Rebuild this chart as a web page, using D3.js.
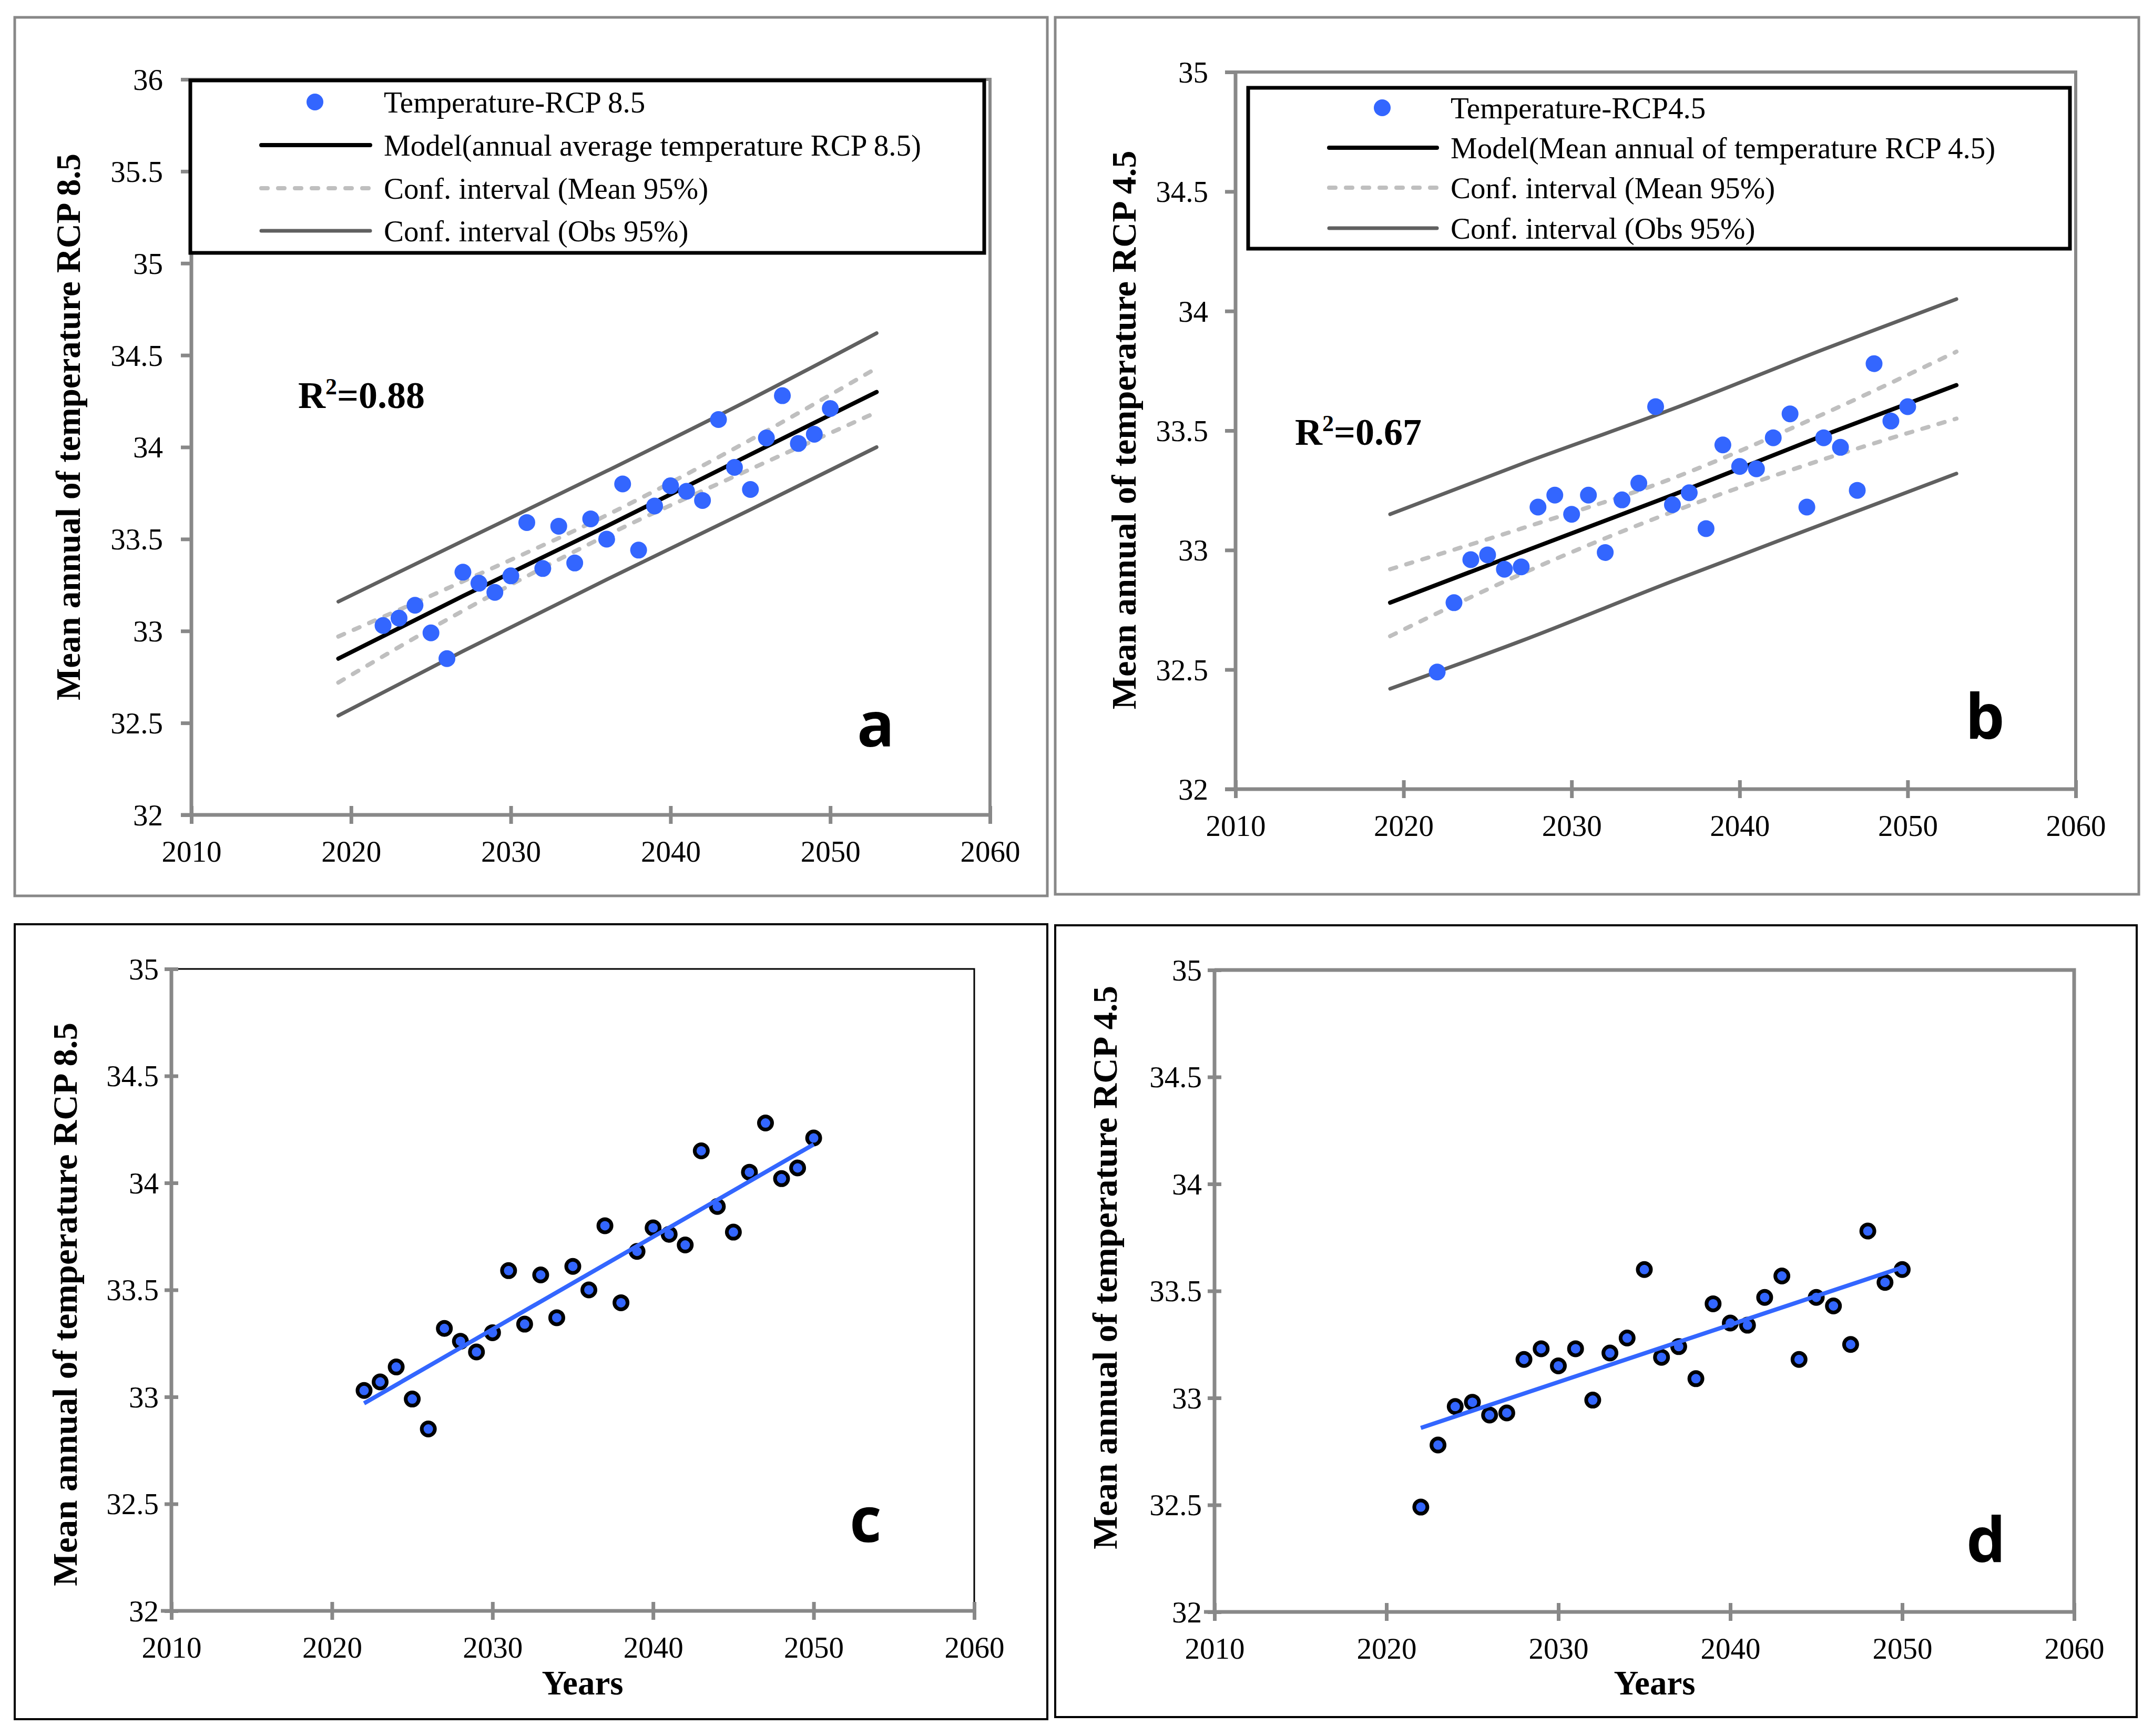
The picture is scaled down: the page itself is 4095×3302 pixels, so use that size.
<!DOCTYPE html>
<html><head><meta charset="utf-8">
<script src="https://cdn.jsdelivr.net/npm/d3@7/dist/d3.min.js"></script>
<style>body{margin:0;background:#fff}svg{display:block}</style>
</head><body>
<svg id="chart" width="4095" height="3302"></svg>
<script>
// ---------------- DATA ----------------
const years = [2022,2023,2024,2025,2026,2027,2028,2029,2030,2031,2032,2033,2034,2035,2036,2037,2038,2039,2040,2041,2042,2043,2044,2045,2046,2047,2048,2049,2050];
const tempRCP85 = [33.03,33.07,33.14,32.99,32.85,33.32,33.26,33.21,33.30,33.59,33.34,33.57,33.37,33.61,33.50,33.80,33.44,33.68,33.79,33.76,33.71,34.15,33.89,33.77,34.05,34.28,34.02,34.07,34.21];
const tempRCP45 = [32.49,32.78,32.96,32.98,32.92,32.93,33.18,33.23,33.15,33.23,32.99,33.21,33.28,33.60,33.19,33.24,33.09,33.44,33.35,33.34,33.47,33.57,33.18,33.47,33.43,33.25,33.78,33.54,33.60];

// regression + confidence lines (read at a few x positions)
const fitYears = [2019.2, 2027, 2036, 2045, 2052.9];
const modelA  = [32.85, 33.19, 33.57, 33.96, 34.30];
const meanUpA = [32.97, 33.27, 33.63, 34.04, 34.43];
const meanLoA = [32.72, 33.11, 33.52, 33.88, 34.19];
const obsUpA  = [33.16, 33.49, 33.87, 34.26, 34.62];
const obsLoA  = [32.54, 32.89, 33.28, 33.66, 34.00];

const modelB  = [32.78, 32.99, 33.23, 33.48, 33.69];
const meanUpB = [32.92, 33.09, 33.30, 33.57, 33.83];
const meanLoB = [32.64, 32.90, 33.16, 33.38, 33.55];
const obsUpB  = [33.15, 33.36, 33.59, 33.84, 34.05];
const obsLoB  = [32.42, 32.62, 32.87, 33.11, 33.32];

// trend lines for panels c and d
const trendYears = [2022, 2050];
const trendC = [32.97, 34.18];
const trendD = [32.86, 33.61];

// ticks
const xTicks = [2010, 2020, 2030, 2040, 2050, 2060];
const yTicksA = [32, 32.5, 33, 33.5, 34, 34.5, 35, 35.5, 36];
const yTicks35 = [32, 32.5, 33, 33.5, 34, 34.5, 35];

const legendA = ["Temperature-RCP 8.5", "Model(annual average temperature RCP 8.5)", "Conf. interval (Mean 95%)", "Conf. interval (Obs 95%)"];
const legendB = ["Temperature-RCP4.5", "Model(Mean annual of temperature RCP 4.5)", "Conf. interval (Mean 95%)", "Conf. interval (Obs 95%)"];
const yLabel85 = "Mean annual of temperature RCP 8.5";
const yLabel45 = "Mean annual of temperature RCP 4.5";
const xLabel = "Years";
const r2A = "0.88", r2B = "0.67";

// ---------------- DRAW ----------------
const SERIF = '"Liberation Serif","Times New Roman",serif';
const SANS = '"Open Sans","Liberation Sans",sans-serif';
const BLUE = '#3366FF';
const AXIS = '#888888';
const svg = d3.select('#chart');
svg.append('rect').attr('width', 4095).attr('height', 3302).attr('fill', '#fff');

const pair = (xs, ys) => xs.map((v, i) => [v, ys[i]]);

function panel(c) {
  const g = svg.append('g');
  g.append('rect')
    .attr('x', c.frame[0]).attr('y', c.frame[1])
    .attr('width', c.frame[2] - c.frame[0]).attr('height', c.frame[3] - c.frame[1])
    .attr('fill', 'none').attr('stroke', c.frameColor).attr('stroke-width', c.frameW);

  const x = d3.scaleLinear().domain([2010, 2060]).range([c.left, c.right]);
  const y = d3.scaleLinear().domain(c.yDomain).range([c.bottom, c.top]);

  // top/right plot border
  g.append('path')
    .attr('d', `M${c.left},${c.top}H${c.right}V${c.bottom}`)
    .attr('fill', 'none').attr('stroke', c.borderColor).attr('stroke-width', c.borderW);

  // Y axis
  const ya = g.append('g').attr('transform', `translate(${c.left},0)`)
    .call(d3.axisLeft(y).tickValues(c.yTicks).tickFormat(d3.format('')).tickSize(0).tickPadding(c.yLabelGap));
  ya.select('.domain').remove();
  ya.attr('font-family', SERIF).attr('font-size', 57);
  ya.selectAll('text').attr('fill', '#000').attr('dy', '0.34em');
  ya.selectAll('.tick').append('line').attr('x1', -c.yTickOut).attr('x2', c.yTickIn)
    .attr('stroke', AXIS).attr('stroke-width', 7);
  g.append('line').attr('x1', c.left).attr('x2', c.left).attr('y1', c.top - 3).attr('y2', c.bottom)
    .attr('stroke', AXIS).attr('stroke-width', 7);

  // X axis
  const xa = g.append('g').attr('transform', `translate(0,${c.bottom})`)
    .call(d3.axisBottom(x).tickValues(xTicks).tickFormat(d3.format('d')).tickSize(0));
  xa.select('.domain').remove();
  xa.attr('font-family', SERIF).attr('font-size', 57);
  xa.selectAll('text').attr('fill', '#000').attr('y', 89).attr('dy', null);
  xa.selectAll('.tick').append('line').attr('y1', -17).attr('y2', 17)
    .attr('stroke', AXIS).attr('stroke-width', 7);
  g.append('line').attr('x1', c.left - 20).attr('x2', c.right + 3).attr('y1', c.bottom).attr('y2', c.bottom)
    .attr('stroke', AXIS).attr('stroke-width', 7);

  // Y label
  g.append('text')
    .attr('transform', `translate(${c.yLab[0]},${c.yLab[1]}) rotate(-90)`)
    .attr('text-anchor', 'middle').attr('font-family', SERIF).attr('font-weight', 'bold')
    .attr('font-size', 65).attr('textLength', c.yLab[2]).attr('lengthAdjust', 'spacingAndGlyphs')
    .text(c.yLabelText);

  if (c.xLab) {
    g.append('text').attr('x', c.xLab[0]).attr('y', c.xLab[1])
      .attr('text-anchor', 'middle').attr('font-family', SERIF).attr('font-weight', 'bold')
      .attr('font-size', 65).text(xLabel);
  }

  // panel letter
  g.append('text').attr('x', c.letter[0]).attr('y', c.letter[1])
    .attr('font-family', SANS).attr('font-weight', 'bold').attr('font-size', 118)
    .text(c.letterText);

  return {g, x, y};
}

function regressionPanel(c, data, lines, legendTexts, r2) {
  const {g, x, y} = panel(c);
  const lin = d3.line().x(d => x(d[0])).y(d => y(d[1]));
  const smooth = d3.line().x(d => x(d[0])).y(d => y(d[1])).curve(d3.curveMonotoneX);

  const obsStyle = s => s.attr('fill', 'none').attr('stroke', '#606060').attr('stroke-width', 7).attr('stroke-linecap', 'round');
  const meanStyle = s => s.attr('fill', 'none').attr('stroke', '#BFBFBF').attr('stroke-width', 8)
    .attr('stroke-dasharray', '12,20').attr('stroke-linecap', 'round');
  const modelStyle = s => s.attr('fill', 'none').attr('stroke', '#000').attr('stroke-width', 8).attr('stroke-linecap', 'round');

  g.append('path').attr('d', smooth(pair(fitYears, lines.obsUp))).call(obsStyle);
  g.append('path').attr('d', smooth(pair(fitYears, lines.obsLo))).call(obsStyle);
  g.append('path').attr('d', smooth(pair(fitYears, lines.meanUp))).call(meanStyle);
  g.append('path').attr('d', smooth(pair(fitYears, lines.meanLo))).call(meanStyle);
  g.append('path').attr('d', lin(pair(fitYears, lines.model))).call(modelStyle);

  g.selectAll('circle.pt').data(pair(years, data)).join('circle').attr('class', 'pt')
    .attr('cx', d => x(d[0])).attr('cy', d => y(d[1])).attr('r', 16).attr('fill', BLUE);

  // legend
  const L = c.legend;
  g.append('rect').attr('x', L.box[0]).attr('y', L.box[1])
    .attr('width', L.box[2] - L.box[0]).attr('height', L.box[3] - L.box[1])
    .attr('fill', '#fff').attr('stroke', '#000').attr('stroke-width', 7);
  const rows = L.rows;
  g.append('ellipse').attr('cx', L.marker).attr('cy', rows[0]).attr('rx', 16).attr('ry', 16).attr('fill', BLUE);
  g.append('line').attr('x1', L.sym[0]).attr('x2', L.sym[1]).attr('y1', rows[1]).attr('y2', rows[1]).call(modelStyle);
  g.append('line').attr('x1', L.sym[0]).attr('x2', L.sym[1]).attr('y1', rows[2]).attr('y2', rows[2]).call(meanStyle);
  g.append('line').attr('x1', L.sym[0]).attr('x2', L.sym[1]).attr('y1', rows[3]).attr('y2', rows[3]).call(obsStyle);
  g.selectAll('text.leg').data(legendTexts).join('text').attr('class', 'leg')
    .attr('x', L.text).attr('y', (d, i) => rows[i] + 20)
    .attr('font-family', SERIF).attr('font-size', 57).attr('fill', '#000').text(d => d);

  // R^2
  const t = g.append('text').attr('x', c.r2[0]).attr('y', c.r2[1])
    .attr('font-family', SERIF).attr('font-weight', 'bold').attr('font-size', 72);
  t.append('tspan').text('R');
  t.append('tspan').attr('font-size', 44).attr('dy', -26).text('2');
  t.append('tspan').attr('dy', 26).text('=' + r2);
}

function trendPanel(c, data, trend) {
  const {g, x, y} = panel(c);
  g.selectAll('circle.pt').data(pair(years, data)).join('circle').attr('class', 'pt')
    .attr('cx', d => x(d[0])).attr('cy', d => y(d[1])).attr('r', 12.5)
    .attr('fill', BLUE).attr('stroke', '#000').attr('stroke-width', 7);
  g.append('path').attr('d', d3.line().x(d => x(d[0])).y(d => y(d[1]))(pair(trendYears, trend)))
    .attr('fill', 'none').attr('stroke', BLUE).attr('stroke-width', 8);
}

regressionPanel({
  frame: [28, 33, 1992, 1704], frameColor: AXIS, frameW: 5,
  left: 364, right: 1883, top: 151, bottom: 1550, yDomain: [32, 36], yTicks: yTicksA,
  borderColor: AXIS, borderW: 6, yLabelGap: 54, yTickOut: 20, yTickIn: 0,
  yLab: [152, 812, 1040], yLabelText: yLabel85,
  letter: [1630, 1420], letterText: 'a', r2: [567, 776],
  legend: {box: [362, 153, 1872, 481], sym: [497, 704], marker: 599, text: 730, rows: [194, 276, 358, 439]}
}, tempRCP85, {model: modelA, meanUp: meanUpA, meanLo: meanLoA, obsUp: obsUpA, obsLo: obsLoA}, legendA, r2A);

regressionPanel({
  frame: [2007, 33, 4068, 1701], frameColor: AXIS, frameW: 5,
  left: 2350, right: 3948, top: 137, bottom: 1501, yDomain: [32, 35], yTicks: yTicks35,
  borderColor: AXIS, borderW: 6, yLabelGap: 52, yTickOut: 20, yTickIn: 0,
  yLab: [2160, 818, 1063], yLabelText: yLabel45,
  letter: [3738, 1405], letterText: 'b', r2: [2463, 846],
  legend: {box: [2374, 167, 3937, 473], sym: [2528, 2733], marker: 2629, text: 2759, rows: [205, 281, 357, 434]}
}, tempRCP45, {model: modelB, meanUp: meanUpB, meanLo: meanLoB, obsUp: obsUpB, obsLo: obsLoB}, legendB, r2B);

trendPanel({
  frame: [28, 1758, 1992, 3270], frameColor: '#000', frameW: 4,
  left: 326, right: 1853, top: 1843, bottom: 3064, yDomain: [32, 35], yTicks: yTicks35,
  borderColor: '#000', borderW: 3, yLabelGap: 24, yTickOut: 13, yTickIn: 13,
  yLab: [146, 2481, 1072], yLabelText: yLabel85, xLab: [1108, 3223],
  letter: [1616, 2933], letterText: 'c'
}, tempRCP85, trendC);

trendPanel({
  frame: [2007, 1760, 4064, 3266], frameColor: '#000', frameW: 4,
  left: 2310, right: 3945, top: 1845, bottom: 3066, yDomain: [32, 35], yTicks: yTicks35,
  borderColor: AXIS, borderW: 7, yLabelGap: 24, yTickOut: 13, yTickIn: 13,
  yLab: [2124, 2411, 1072], yLabelText: yLabel45, xLab: [3147, 3223],
  letter: [3740, 2971], letterText: 'd'
}, tempRCP45, trendD);
</script>
</body></html>
